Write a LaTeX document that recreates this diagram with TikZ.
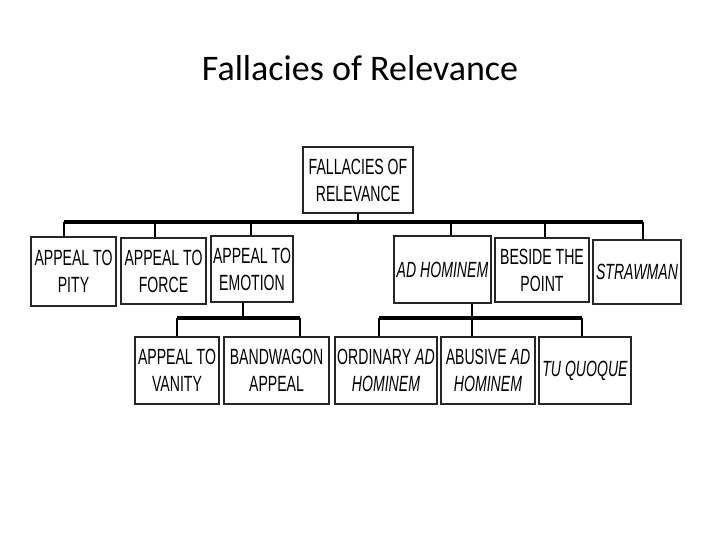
\documentclass[tikz,border=0pt]{standalone}
\usepackage{fontspec}
\setmainfont{Liberation Sans}
\newfontfamily\titlefont{Carlito}
\usepackage{graphicx}
\newcommand{\sq}[1]{\scalebox{0.64}[1]{#1}}
\begin{document}
\begin{tikzpicture}[x=1pt,y=-1pt,
  bx/.style={draw=black!85,line width=1.1pt,inner sep=0pt,align=center,font=\fontsize{22}{27}\selectfont},
  bus/.style={line width=3.6pt},
  tick/.style={line width=1.6pt}]
\useasboundingbox (0,0) rectangle (720,540);
\node[font=\titlefont\fontsize{36}{40}\selectfont] (title) at (360,68) {Fallacies of Relevance};
\newcommand{\bxn}[6]{\node[bx,minimum width=#4-#2,minimum height=#5-#3] (#1) at ({(#2+#4)/2},{(#3+#5)/2}) {#6};}
\bxn{root}{303}{147}{413}{213}{\sq{FALLACIES OF}\\\sq{RELEVANCE}}
\bxn{pity}{31}{237}{116}{306}{\sq{APPEAL TO}\\\sq{PITY}}
\bxn{force}{121}{238}{206}{304}{\sq{APPEAL TO}\\\sq{FORCE}}
\bxn{emo}{211}{236}{293}{302}{\sq{APPEAL TO}\\\sq{EMOTION}}
\bxn{adh}{394}{236}{491}{303}{\sq{\itshape AD HOMINEM}}
\bxn{beside}{495}{238}{589}{302}{\sq{BESIDE THE}\\\sq{POINT}}
\bxn{straw}{593}{240}{681}{304}{\sq{\itshape STRAWMAN}}
\bxn{vanity}{135}{337}{219}{404}{\sq{APPEAL TO}\\\sq{VANITY}}
\bxn{band}{224}{337}{329}{404}{\sq{BANDWAGON}\\\sq{APPEAL}}
\bxn{ord}{335}{337}{437}{404}{\sq{ORDINARY \textit{AD}}\\\sq{\itshape HOMINEM}}
\bxn{abu}{441}{337}{535}{404}{\sq{ABUSIVE \textit{AD}}\\\sq{\itshape HOMINEM}}
\bxn{tu}{539}{337}{631}{404}{\sq{\itshape TU QUOQUE}}
% bus 1
\draw[tick] (root.south) -- (root.south |- 0,222);
\draw[bus] (64,222) -- (643,222);
\foreach \n/\x in {pity/64,force/155,emo/251,adh/451,beside/545,straw/643}
  \draw[tick] (\x,222) -- (\x,0 |- \n.north);
% bus 2
\draw[tick] (243,0 |- emo.south) -- (243,318);
\draw[bus] (177,318) -- (300,318);
\draw[tick] (177,318) -- (177,0 |- vanity.north);
\draw[tick] (300,318) -- (300,0 |- band.north);
% bus 3
\draw[tick] (472,0 |- adh.south) -- (472,318);
\draw[bus] (379,318) -- (582,318);
\draw[tick] (379,318) -- (379,0 |- ord.north);
\draw[tick] (472,318) -- (472,0 |- abu.north);
\draw[tick] (582,318) -- (582,0 |- tu.north);
\end{tikzpicture}
\end{document}
